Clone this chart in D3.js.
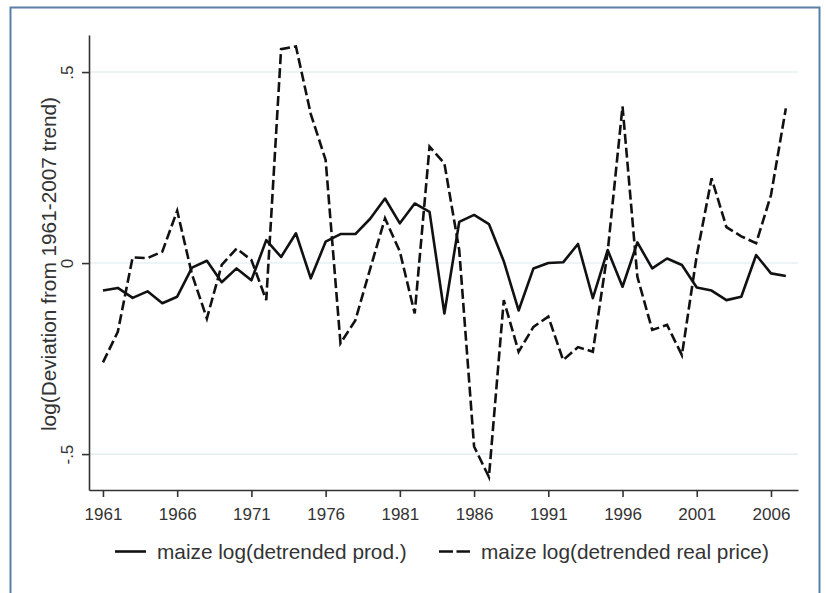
<!DOCTYPE html>
<html>
<head>
<meta charset="utf-8">
<script src="https://cdn.jsdelivr.net/npm/d3@7"></script>
<style>
  body { margin: 0; background: #fff; }
  svg text { font-family: "Liberation Sans", Arial, sans-serif; fill: #333; }
</style>
</head>
<body>
<svg id="chart" width="826" height="593"></svg>
<script>
// values, 1961..2007
var years = d3.range(1961, 2008);
var prod = [-0.072, -0.065, -0.091, -0.074, -0.105, -0.088, -0.012, 0.006, -0.05, -0.014,
  -0.045, 0.06, 0.016, 0.078, -0.04, 0.056, 0.076, 0.076, 0.116, 0.169,
  0.104, 0.156, 0.134, -0.132, 0.108, 0.126, 0.102, 0.005, -0.124, -0.014,
  0.0, 0.002, 0.05, -0.092, 0.034, -0.062, 0.054, -0.014, 0.012, -0.005,
  -0.064, -0.072, -0.097, -0.088, 0.021, -0.027, -0.034];
var price = [-0.26, -0.18, 0.015, 0.013, 0.03, 0.137, -0.03, -0.145, -0.005, 0.038,
  0.008, -0.097, 0.56, 0.567, 0.39, 0.27, -0.21, -0.15, -0.015, 0.117,
  0.03, -0.132, 0.305, 0.261, 0.034, -0.48, -0.56, -0.097, -0.232, -0.167,
  -0.14, -0.254, -0.22, -0.232, 0.03, 0.41, -0.036, -0.175, -0.162, -0.241,
  0.02, 0.222, 0.094, 0.07, 0.052, 0.178, 0.405];
var xTicks = [1961, 1966, 1971, 1976, 1981, 1986, 1991, 1996, 2001, 2006];
var yTicks = [-0.5, 0, 0.5];
var seriesNames = ["maize log(detrended prod.)", "maize log(detrended real price)"];
var yTitle = "log(Deviation from 1961-2007 trend)";

var svg = d3.select("#chart");

// outer frame
svg.append("rect")
  .attr("x", 10.5).attr("y", 7.5)
  .attr("width", 809).attr("height", 610)
  .attr("fill", "none")
  .attr("stroke", "#5a80a6")
  .attr("stroke-width", 2);

var x = d3.scaleLinear().domain([1960.06, 2007.82]).range([89, 798]),
    y = d3.scaleLinear().domain([-0.594, 0.597]).range([490, 35]);

// grid lines
svg.append("g").selectAll("line")
  .data(yTicks)
  .enter().append("line")
  .attr("x1", 90).attr("x2", 798)
  .attr("y1", d => y(d)).attr("y2", d => y(d))
  .attr("stroke", "#e6f0f2")
  .attr("stroke-width", 1.6);

var lineGen = vals => d3.line()
  .x((d, i) => x(years[i]))
  .y(d => y(d))(vals);

svg.append("path")
  .attr("d", lineGen(prod))
  .attr("fill", "none")
  .attr("stroke", "#111")
  .attr("stroke-width", 2.6)
  .attr("stroke-linejoin", "round");

svg.append("path")
  .attr("d", lineGen(price))
  .attr("fill", "none")
  .attr("stroke", "#111")
  .attr("stroke-width", 2.6)
  .attr("stroke-dasharray", "10,4");

// axes
var xAxis = svg.append("g")
  .attr("transform", "translate(0,490)")
  .call(d3.axisBottom(x).tickValues(xTicks).tickFormat(d3.format("d"))
    .tickSize(7).tickSizeOuter(0).tickPadding(11));
var yAxis = svg.append("g")
  .attr("transform", "translate(89,0)")
  .call(d3.axisLeft(y).tickValues(yTicks)
    .tickFormat(d => d == 0 ? "0" : (d < 0 ? "-" : "") + ".5")
    .tickSize(7).tickSizeOuter(0));

[xAxis, yAxis].forEach(g => {
  g.select(".domain").attr("stroke", "#333").attr("stroke-width", 1.6);
  g.selectAll(".tick line").attr("stroke", "#333").attr("stroke-width", 1.6);
  g.selectAll("text").style("font-size", "17px").attr("fill", "#333");
});

yAxis.selectAll(".tick text")
  .attr("transform", "rotate(-90)")
  .attr("x", 0).attr("y", -16).attr("dy", 0)
  .attr("text-anchor", "middle");

svg.append("text")
  .attr("transform", "translate(56,264) rotate(-90)")
  .attr("text-anchor", "middle")
  .style("font-size", "20.8px")
  .text(yTitle);

// legend
var legend = svg.append("g").selectAll("g")
  .data(seriesNames)
  .enter().append("g")
  .attr("transform", (d, i) => "translate(" + [115, 439][i] + ",0)");

legend.append("line")
  .attr("x1", 0).attr("x2", 31)
  .attr("y1", 551.5).attr("y2", 551.5)
  .attr("stroke", "#111")
  .attr("stroke-width", 2.6)
  .attr("stroke-dasharray", (d, i) => i ? "14,3.5" : null);

legend.append("text")
  .attr("x", 42).attr("y", 558.5)
  .style("font-size", "20.8px")
  .text(d => d);
</script>
</body>
</html>
